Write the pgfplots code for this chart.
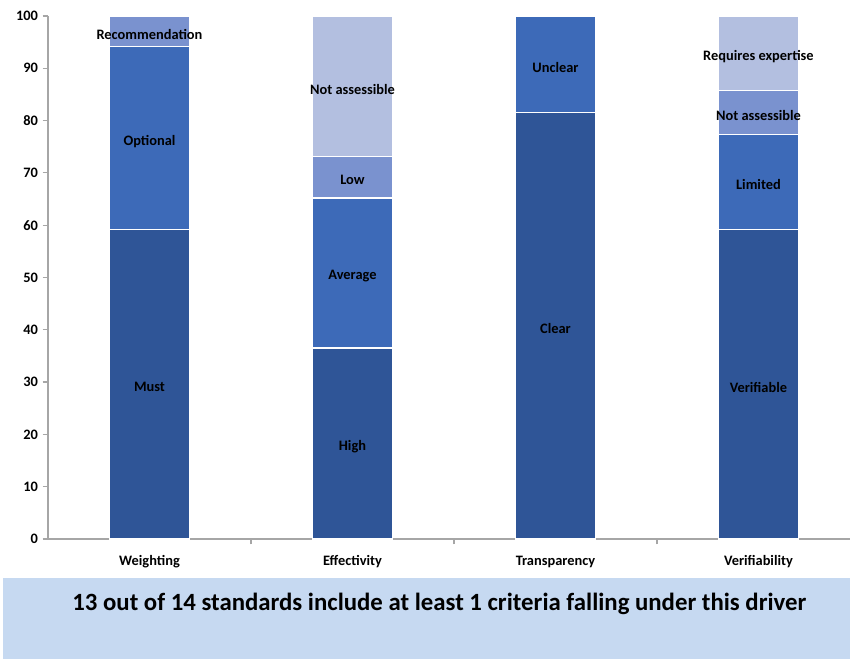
\documentclass[border=0pt]{standalone}
\usepackage{fontspec}
\setmainfont{Carlito}
\usepackage{pgfplots}
\pgfplotsset{compat=1.18}
\definecolor{barA}{HTML}{2F5597}
\definecolor{barB}{HTML}{3D6AB8}
\definecolor{barC}{HTML}{7A92CF}
\definecolor{barD}{HTML}{B3BFE0}
\definecolor{panelblue}{HTML}{C6D9F1}
\definecolor{axgray}{HTML}{A6A6A6}
\newcommand{\lab}{\bfseries\fontsize{10.8}{12}\selectfont}
\tikzset{barlab/.style={font=\lab, yshift=-2.2pt}, catlab/.style={font=\lab, yshift=-1.5pt}}
\begin{document}
\begin{tikzpicture}
\useasboundingbox (0,0) rectangle (637.5pt,494.25pt);
\fill[panelblue] (2.25pt,0pt) rectangle (637.5pt,60.75pt);
\node[font=\bfseries\fontsize{18.6}{22}\selectfont] at (329.5pt,41.5pt) {13 out of 14 standards include at least 1 criteria falling under this driver};
\begin{axis}[
  at={(36pt,90pt)}, anchor=south west,
  width=601.5pt, height=392.25pt, scale only axis,
  ybar stacked, bar width=0.394,
  ymin=0, ymax=100, xmin=-0.5, xmax=3.451,
  axis x line*=bottom, axis y line*=left,
  axis line style={axgray, line width=0.9pt},
  ytick={0,10,...,100},
  xtick={0.5,1.5,2.5},
  xticklabel=\empty,
  tick style={axgray, line width=0.9pt},
  tick align=outside,
  major tick length=4pt,
  /pgf/number format/assume math mode=true,
  yticklabel style={font=\lab},
  clip=false,
]
\addplot[fill=barA, draw=white, line width=0.9pt] coordinates {(0,59.1) (1,36.5) (2,81.5) (3,59.1)};
\addplot[fill=barB, draw=white, line width=0.9pt] coordinates {(0,35.0) (1,28.7) (2,18.5) (3,18.3)};
\addplot[fill=barC, draw=white, line width=0.9pt] coordinates {(0,5.9) (1,8.0) (2,0) (3,8.3)};
\addplot[fill=barD, draw=white, line width=0.9pt] coordinates {(0,0) (1,26.8) (2,0) (3,14.3)};
\coordinate (L1) at (axis cs:0,29.55);
\coordinate (L2) at (axis cs:0,76.6);
\coordinate (L3) at (axis cs:0,97.0);
\coordinate (L4) at (axis cs:1,18.25);
\coordinate (L5) at (axis cs:1,50.85);
\coordinate (L6) at (axis cs:1,69.2);
\coordinate (L7) at (axis cs:1,86.6);
\coordinate (L8) at (axis cs:2,40.75);
\coordinate (L9) at (axis cs:2,90.75);
\coordinate (L10) at (axis cs:3,29.55);
\coordinate (L11) at (axis cs:3,68.25);
\coordinate (L12) at (axis cs:3,81.55);
\coordinate (L13) at (axis cs:3,92.85);
\coordinate (X0) at (axis cs:0,-4);
\coordinate (X1) at (axis cs:1,-4);
\coordinate (X2) at (axis cs:2,-4);
\coordinate (X3) at (axis cs:3,-4);
\end{axis}
\node[barlab] at (L1) {Must};
\node[barlab] at (L2) {Optional};
\node[barlab] at (L3) {Recommendation};
\node[barlab] at (L4) {High};
\node[barlab] at (L5) {Average};
\node[barlab] at (L6) {Low};
\node[barlab] at (L7) {Not assessible};
\node[barlab] at (L8) {Clear};
\node[barlab] at (L9) {Unclear};
\node[barlab] at (L10) {Verifiable};
\node[barlab] at (L11) {Limited};
\node[barlab] at (L12) {Not assessible};
\node[barlab] at (L13) {Requires expertise};
\node[catlab] at (X0) {Weighting};
\node[catlab] at (X1) {Effectivity};
\node[catlab] at (X2) {Transparency};
\node[catlab] at (X3) {Verifiability};
\end{tikzpicture}
\end{document}
